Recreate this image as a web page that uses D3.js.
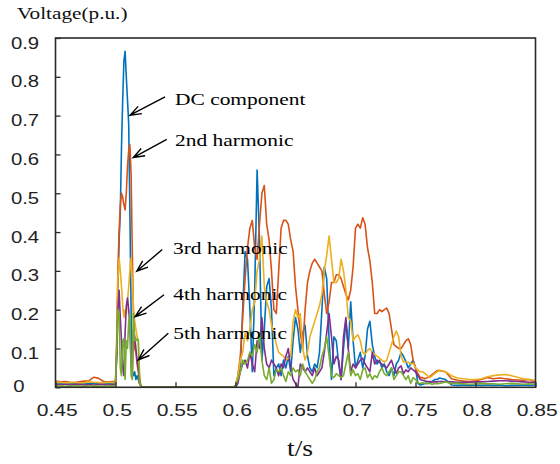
<!DOCTYPE html>
<html>
<head>
<meta charset="utf-8">
<script src="https://cdn.jsdelivr.net/npm/d3@7"></script>
<style>
  html, body { margin: 0; padding: 0; background: #fff; }
  svg { display: block; }
</style>
</head>
<body>
<svg id="chart" width="560" height="464"></svg>
<script>
// ---------------- DATA ----------------
const time = [
  0.450,0.454,0.458,0.462,0.466,0.470,0.474,0.478,0.482,0.486,0.490,0.494,0.498,
  0.500,0.501,0.502,0.503,0.504,0.505,0.506,0.507,0.508,0.509,0.510,0.511,0.512,0.513,0.514,0.515,0.516,0.517,0.518,0.519,0.520,0.521,0.522,
  0.530,0.560,0.590,0.596,
  0.598,0.600,0.602,0.604,0.606,0.608,0.610,0.612,0.614,0.616,0.618,0.620,0.622,0.624,0.626,0.628,0.630,0.632,0.634,0.636,0.638,0.640,
  0.642,0.644,0.646,0.648,0.650,0.652,0.654,0.656,0.658,0.660,0.662,0.664,0.666,0.668,0.670,0.672,0.674,0.676,0.678,0.680,0.682,0.684,
  0.686,0.688,0.690,0.692,0.694,0.696,0.698,0.700,0.702,0.704,0.706,0.708,0.710,0.712,0.714,0.716,0.718,0.720,0.722,0.724,0.726,0.728,
  0.730,0.732,0.734,0.736,0.738,0.740,0.742,0.744,0.746,0.748,0.750,0.752,0.754,0.756,0.758,0.760,0.762,0.764,0.766,0.768,0.770,
  0.775,0.780,0.785,0.790,0.795,0.800,0.805,0.810,0.815,0.820,0.825,0.830,0.835,0.840,0.845,0.850
];

const dcComponent = [
  0.009,0.010,0.008,0.010,0.009,0.008,0.010,0.009,0.011,0.008,0.009,0.010,0.009,
  0.010,0.08,0.25,0.38,0.45,0.62,0.74,0.84,0.866,0.80,0.74,0.68,0.45,0.20,0.04,0.03,0.04,0.02,0.03,0.02,0.01,0.005,0.0,
  0,0,0,0,
  0.0,0.0,0.02,0.05,0.2,0.35,0.33,0.2,0.04,0.25,0.56,0.38,0.07,0.15,0.26,0.28,0.20,0.03,0.05,0.06,0.03,0.07,
  0.05,0.08,0.04,0.12,0.18,0.15,0.09,0.14,0.16,0.08,0.05,0.04,0.06,0.05,0.09,0.20,0.31,0.28,0.12,0.02,0.13,0.12,
  0.06,0.02,0.10,0.17,0.10,0.22,0.12,0.05,0.07,0.09,0.05,0.08,0.15,0.17,0.11,0.08,0.06,0.07,0.05,0.06,0.04,0.03,
  0.05,0.03,0.06,0.07,0.09,0.08,0.066,0.05,0.06,0.07,0.05,0.01,0.006,0.008,0.01,0.01,0.012,0.015,0.02,0.02,0.024,
  0.02,0.006,0.005,0.006,0.005,0.006,0.005,0.006,0.005,0.006,0.004,0.005,0.005,0.006,0.005,0.006
];

const harmonic2 = [
  0.016,0.014,0.015,0.013,0.012,0.014,0.016,0.017,0.026,0.023,0.015,0.014,0.015,
  0.015,0.12,0.30,0.40,0.47,0.50,0.49,0.47,0.457,0.50,0.57,0.61,0.625,0.55,0.35,0.18,0.10,0.09,0.06,0.04,0.01,0.005,0.0,
  0,0,0,0,
  0.0,0.005,0.03,0.08,0.18,0.28,0.36,0.41,0.43,0.36,0.33,0.42,0.50,0.52,0.42,0.38,0.30,0.20,0.19,0.30,0.41,0.43,
  0.43,0.42,0.38,0.35,0.26,0.20,0.14,0.10,0.20,0.27,0.30,0.32,0.33,0.32,0.31,0.30,0.24,0.19,0.22,0.27,0.27,0.29,
  0.29,0.28,0.26,0.24,0.225,0.25,0.31,0.41,0.42,0.41,0.437,0.42,0.36,0.325,0.27,0.19,0.19,0.20,0.195,0.20,0.204,0.19,
  0.15,0.11,0.105,0.10,0.10,0.11,0.12,0.125,0.11,0.07,0.05,0.035,0.025,0.025,0.022,0.025,0.028,0.033,0.038,0.043,0.043,
  0.04,0.022,0.018,0.016,0.015,0.017,0.02,0.025,0.022,0.024,0.022,0.02,0.019,0.018,0.02,0.012
];

const harmonic3 = [
  0.012,0.013,0.011,0.012,0.013,0.011,0.012,0.014,0.013,0.012,0.011,0.013,0.012,
  0.012,0.10,0.28,0.333,0.30,0.26,0.21,0.18,0.20,0.19,0.22,0.26,0.30,0.333,0.28,0.20,0.17,0.15,0.13,0.12,0.04,0.005,0.0,
  0,0,0,0,
  0.0,0.005,0.03,0.07,0.09,0.14,0.12,0.15,0.20,0.22,0.30,0.33,0.39,0.26,0.22,0.20,0.16,0.14,0.11,0.09,0.085,0.08,
  0.07,0.075,0.08,0.17,0.20,0.18,0.19,0.10,0.07,0.09,0.13,0.15,0.17,0.19,0.21,0.24,0.30,0.34,0.39,0.33,0.27,0.27,
  0.28,0.33,0.30,0.25,0.18,0.17,0.12,0.13,0.135,0.12,0.09,0.085,0.095,0.10,0.09,0.085,0.08,0.075,0.07,0.065,0.07,0.09,
  0.11,0.13,0.145,0.13,0.08,0.065,0.065,0.065,0.06,0.062,0.05,0.045,0.04,0.04,0.035,0.03,0.025,0.03,0.035,0.04,0.044,
  0.04,0.03,0.024,0.022,0.02,0.02,0.022,0.027,0.03,0.032,0.033,0.03,0.026,0.022,0.02,0.018
];

const harmonic4 = [
  0.007,0.006,0.008,0.006,0.007,0.008,0.006,0.007,0.006,0.008,0.007,0.006,0.007,
  0.007,0.08,0.20,0.25,0.18,0.12,0.05,0.03,0.14,0.21,0.23,0.20,0.16,0.06,0.03,0.15,0.13,0.10,0.07,0.05,0.02,0.005,0.0,
  0,0,0,0,
  0.0,0.0,0.01,0.04,0.06,0.07,0.05,0.09,0.06,0.04,0.12,0.10,0.18,0.10,0.06,0.05,0.07,0.06,0.05,0.03,0.06,0.05,
  0.08,0.10,0.05,0.02,0.01,0.0,0.06,0.05,0.04,0.05,0.04,0.03,0.05,0.03,0.04,0.05,0.09,0.14,0.19,0.13,0.06,0.08,
  0.07,0.02,0.13,0.18,0.10,0.04,0.06,0.05,0.06,0.07,0.075,0.06,0.05,0.04,0.09,0.06,0.07,0.065,0.06,0.055,0.05,0.06,
  0.07,0.05,0.036,0.05,0.055,0.035,0.045,0.04,0.05,0.045,0.04,0.03,0.02,0.018,0.016,0.015,0.015,0.014,0.014,0.014,0.015,
  0.015,0.014,0.013,0.013,0.013,0.014,0.014,0.015,0.016,0.017,0.017,0.016,0.015,0.014,0.013,0.012
];

const harmonic5 = [
  0.003,0.004,0.002,0.003,0.004,0.003,0.002,0.004,0.003,0.003,0.002,0.004,0.003,
  0.003,0.10,0.20,0.19,0.05,0.03,0.12,0.125,0.02,0.12,0.10,0.17,0.19,0.03,0.02,0.19,0.12,0.12,0.125,0.12,0.02,0.0,0.0,
  0,0,0,0,
  0.0,0.005,0.02,0.04,0.07,0.06,0.07,0.09,0.08,0.11,0.09,0.14,0.07,0.03,0.02,0.05,0.01,0.02,0.045,0.04,0.05,0.03,
  0.015,0.04,0.03,0.05,0.04,0.045,0.03,0.06,0.04,0.03,0.02,0.01,0.02,0.04,0.05,0.08,0.10,0.13,0.08,0.03,0.025,0.035,
  0.03,0.025,0.03,0.06,0.09,0.03,0.045,0.03,0.035,0.02,0.045,0.05,0.025,0.035,0.02,0.03,0.025,0.04,0.05,0.035,0.03,0.04,
  0.05,0.02,0.03,0.04,0.04,0.03,0.02,0.03,0.01,0.025,0.02,0.012,0.01,0.012,0.01,0.01,0.01,0.008,0.01,0.009,0.01,
  0.014,0.01,0.01,0.009,0.008,0.009,0.01,0.009,0.009,0.008,0.009,0.01,0.009,0.008,0.009,0.008
];

const seriesNames = ["DC component", "2nd harmonic", "3rd harmonic", "4th harmonic", "5th harmonic"];
const seriesColors = ["#0072BD", "#D95319", "#EDB120", "#7E2F8E", "#77AC30"];
const seriesValues = [dcComponent, harmonic2, harmonic3, harmonic4, harmonic5];

const xTicks = [0.45, 0.5, 0.55, 0.6, 0.65, 0.7, 0.75, 0.8, 0.85];
const yTicks = [0, 0.1, 0.2, 0.3, 0.4, 0.5, 0.6, 0.7, 0.8, 0.9];

// annotation label positions and arrows, in data units
const annoLabels = ["DC component", "2nd harmonic", "3rd harmonic", "4th harmonic", "5th harmonic"];
const annoTextT = [0.5496, 0.5496, 0.5479, 0.5482, 0.5482];
const annoTextV = [0.727, 0.622, 0.344, 0.224, 0.124];
const arrowFromT = [0.5413, 0.5427, 0.5390, 0.5404, 0.5440];
const arrowFromV = [0.748, 0.639, 0.355, 0.2385, 0.1395];
const arrowToT = [0.5121, 0.5148, 0.5177, 0.5163, 0.5190];
const arrowToV = [0.701, 0.592, 0.299, 0.182, 0.0705];

// ---------------- CHART ----------------
seriesValues.forEach((s, i) => {
  if (s.length !== time.length) console.error("length mismatch", seriesNames[i], s.length, time.length);
});

const svg = d3.select("#chart");
const x = d3.scaleLinear().domain([0.45, 0.85]).range([55.5, 535.5]);
const y = d3.scaleLinear().domain([0, 0.9]).range([387.3, 38]);

const serif = "'Liberation Serif', 'Times New Roman', serif";
const sans = "'Liberation Sans', Arial, sans-serif";
const axisColor = "#2b2b2b";

// lines
const line = d3.line().x(d => x(d[0])).y(d => y(d[1]));
seriesValues.forEach((vals, i) => {
  const pts = time.map((t, k) => [t, vals[k]]);
  svg.append("path")
    .datum(pts)
    .attr("fill", "none")
    .attr("stroke", seriesColors[i])
    .attr("stroke-width", 1.6)
    .attr("stroke-linejoin", "round")
    .attr("d", line);
});

// box
svg.append("rect")
  .attr("x", x(0.45)).attr("y", y(0.9))
  .attr("width", x(0.85) - x(0.45)).attr("height", y(0) - y(0.9))
  .attr("fill", "none").attr("stroke", axisColor).attr("stroke-width", 1.6);

// x axis
const xAxis = svg.append("g")
  .attr("transform", `translate(0,${y(0)})`)
  .call(d3.axisBottom(x).tickValues(xTicks).tickSizeInner(-5).tickSizeOuter(0).tickFormat(d3.format("")));
xAxis.select(".domain").remove();
xAxis.selectAll(".tick line").attr("stroke", axisColor).attr("stroke-width", 1.3);
xAxis.selectAll(".tick text")
  .attr("y", 29).attr("dy", 0).attr("x", 1)
  .attr("fill", "#222")
  .attr("font-family", sans).attr("font-size", 17)
  .attr("text-anchor", "middle")
  .attr("transform", "scale(1.24,1)");

// y axis
const yAxis = svg.append("g")
  .attr("transform", `translate(${x(0.45)},0)`)
  .call(d3.axisLeft(y).tickValues(yTicks).tickSizeInner(-5).tickSizeOuter(0).tickFormat(d3.format("")));
yAxis.select(".domain").remove();
yAxis.selectAll(".tick line").attr("stroke", axisColor).attr("stroke-width", 1.3);
yAxis.selectAll(".tick text")
  .attr("x", d => (d === 0 ? -36.5 : -30.5) / 1.27)
  .attr("y", d => d === 0 ? 4 : 10).attr("dy", 0)
  .attr("fill", "#222")
  .attr("font-family", sans).attr("font-size", 16)
  .attr("text-anchor", "middle")
  .attr("transform", "scale(1.27,1)");

// axis titles
svg.append("text")
  .attr("transform", "translate(17,18.5) scale(1.25,1)")
  .attr("font-family", serif).attr("font-size", 17).attr("fill", "#111")
  .text("Voltage(p.u.)");

svg.append("text")
  .attr("transform", "translate(300,456) scale(1.15,1)")
  .attr("text-anchor", "middle")
  .attr("font-family", serif).attr("font-size", 24).attr("fill", "#111")
  .text("t/s");

// annotations
annoLabels.forEach((label, i) => {
  const x0 = x(arrowFromT[i]), y0 = y(arrowFromV[i]);
  const x1 = x(arrowToT[i]), y1 = y(arrowToV[i]);
  const ang = Math.atan2(y0 - y1, x0 - x1);
  const hl = 12, ha = 20 * Math.PI / 180;
  const h1 = [x1 + hl * Math.cos(ang - ha), y1 + hl * Math.sin(ang - ha)];
  const h2 = [x1 + hl * Math.cos(ang + ha), y1 + hl * Math.sin(ang + ha)];
  svg.append("path")
    .attr("d", `M${x0},${y0}L${x1},${y1}M${h1[0]},${h1[1]}L${x1},${y1}L${h2[0]},${h2[1]}`)
    .attr("fill", "none").attr("stroke", "#000").attr("stroke-width", 1.4);
  svg.append("text")
    .attr("transform", `translate(${x(annoTextT[i])},${y(annoTextV[i])}) scale(1.34,1)`)
    .attr("font-family", serif).attr("font-size", 16).attr("fill", "#000")
    .text(label);
});
</script>
</body>
</html>
